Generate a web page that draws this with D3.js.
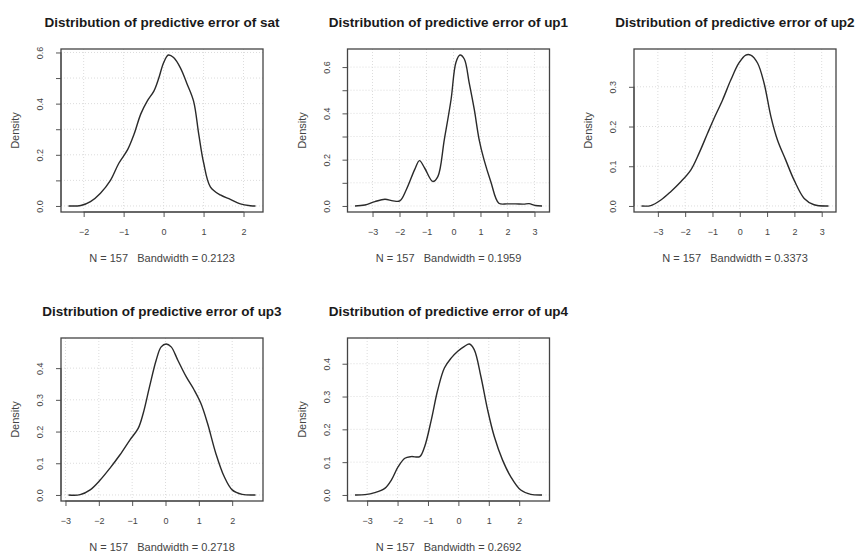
<!DOCTYPE html>
<html>
<head>
<meta charset="utf-8">
<script src="https://cdn.jsdelivr.net/npm/d3@7"></script>
<style>
  body { margin: 0; background: #fff; }
  svg text { font-family: "Liberation Sans", Arial, Helvetica, sans-serif; }
</style>
</head>
<body>
<svg id="chart" width="857" height="554"></svg>
<script>
// estimated density curves
const names = [ "sat", "up1", "up2", "up3", "up4" ];
const bandwidths = [ "0.2123", "0.1959", "0.3373", "0.2718", "0.2692" ];
const sampleSize = 157;

const satX = [ -2.38, -2.07, -1.83, -1.58, -1.33, -1.12, -0.9, -0.74, -0.57, -0.41, -0.24, -0.12, 0.0, 0.12, 0.25, 0.42, 0.58, 0.75, 0.88, 1.0, 1.17, 1.42, 1.67, 1.92, 2.17, 2.3 ];
const satY = [ 0.0, 0.002, 0.017, 0.05, 0.10, 0.167, 0.22, 0.28, 0.36, 0.41, 0.45, 0.50, 0.56, 0.59, 0.58, 0.54, 0.48, 0.41, 0.28, 0.17, 0.075, 0.043, 0.026, 0.008, 0.001, 0.0 ];

const up1X = [ -3.65, -3.28, -2.91, -2.54, -2.24, -1.99, -1.75, -1.44, -1.26, -1.07, -0.77, -0.58, -0.34, -0.09, 0.09, 0.24, 0.40, 0.58, 0.77, 0.95, 1.13, 1.38, 1.68, 1.99, 2.30, 2.6, 2.8, 3.03, 3.28 ];
const up1Y = [ 0.0, 0.004, 0.019, 0.029, 0.022, 0.022, 0.07, 0.157, 0.196, 0.164, 0.106, 0.127, 0.287, 0.46, 0.62, 0.652, 0.635, 0.533, 0.417, 0.287, 0.2, 0.106, 0.012, 0.009, 0.009, 0.008, 0.010, 0.002, 0.0 ];

const up2X = [ -3.6, -3.26, -2.89, -2.53, -2.16, -1.79, -1.49, -1.18, -0.94, -0.63, -0.33, -0.03, 0.22, 0.40, 0.65, 0.89, 1.14, 1.38, 1.68, 1.99, 2.36, 2.72, 3.25 ];
const up2Y = [ 0.0, 0.001, 0.015, 0.036, 0.061, 0.091, 0.133, 0.183, 0.221, 0.267, 0.317, 0.36, 0.38, 0.38, 0.36, 0.309, 0.225, 0.166, 0.116, 0.065, 0.019, 0.003, 0.0 ];

const up3X = [ -2.91, -2.56, -2.26, -1.96, -1.67, -1.37, -1.07, -0.82, -0.67, -0.48, -0.28, -0.13, 0.02, 0.17, 0.37, 0.62, 0.86, 1.06, 1.26, 1.51, 1.76, 2.0, 2.3, 2.7 ];
const up3Y = [ 0.0, 0.001, 0.016, 0.047, 0.084, 0.126, 0.173, 0.21, 0.257, 0.341, 0.425, 0.467, 0.476, 0.467, 0.425, 0.373, 0.331, 0.289, 0.226, 0.131, 0.058, 0.016, 0.002, 0.0 ];

const up4X = [ -3.4, -3.07, -2.75, -2.42, -2.2, -1.98, -1.76, -1.55, -1.27, -1.11, -0.89, -0.68, -0.46, -0.24, -0.02, 0.2, 0.36, 0.52, 0.74, 0.96, 1.18, 1.45, 1.72, 2.05, 2.38, 2.75 ];
const up4Y = [ 0.0, 0.001, 0.007, 0.02, 0.046, 0.086, 0.112, 0.117, 0.117, 0.147, 0.229, 0.32, 0.387, 0.417, 0.438, 0.453, 0.46, 0.443, 0.361, 0.26, 0.178, 0.107, 0.056, 0.015, 0.002, 0.0 ];

// axis ticks; an empty label means tick without text (R drops overlapping labels)
const satXTicks = [ -2, -1, 0, 1, 2 ];
const up1XTicks = [ -3, -2, -1, 0, 1, 2, 3 ];
const up2XTicks = [ -3, -2, -1, 0, 1, 2, 3 ];
const up3XTicks = [ -3, -2, -1, 0, 1, 2 ];
const up4XTicks = [ -3, -2, -1, 0, 1, 2 ];

const satYTicks = [ 0, 0.1, 0.2, 0.3, 0.4, 0.5, 0.6 ];
const satYLabels = [ "0.0", "", "0.2", "", "0.4", "", "0.6" ];
const up1YTicks = [ 0, 0.1, 0.2, 0.3, 0.4, 0.5, 0.6 ];
const up1YLabels = [ "0.0", "", "0.2", "", "0.4", "", "0.6" ];
const up2YTicks = [ 0, 0.1, 0.2, 0.3 ];
const up2YLabels = [ "0.0", "0.1", "0.2", "0.3" ];
const up3YTicks = [ 0, 0.1, 0.2, 0.3, 0.4 ];
const up3YLabels = [ "0.0", "0.1", "0.2", "0.3", "0.4" ];
const up4YTicks = [ 0, 0.1, 0.2, 0.3, 0.4 ];
const up4YLabels = [ "0.0", "0.1", "0.2", "0.3", "0.4" ];

const series = [
  { x: satX, y: satY, xt: satXTicks, yt: satYTicks, yl: satYLabels },
  { x: up1X, y: up1Y, xt: up1XTicks, yt: up1YTicks, yl: up1YLabels },
  { x: up2X, y: up2Y, xt: up2XTicks, yt: up2YTicks, yl: up2YLabels },
  { x: up3X, y: up3Y, xt: up3XTicks, yt: up3YTicks, yl: up3YLabels },
  { x: up4X, y: up4Y, xt: up4XTicks, yt: up4YTicks, yl: up4YLabels },
];

const WIDTH = 202;
const HEIGHT = 163;
const LEFTS = [ 61, 347.5, 634 ];
const TOPS = [ 49, 338 ];

const svg = d3.select( "#chart" );
svg.append( "rect" ).attr( "width", 857 ).attr( "height", 554 ).attr( "fill", "#fff" );

const drawPanel = ( i ) => {
  const s = series[i];
  const pts = s.x.map( ( v, j ) => ( { x: v, y: s.y[j] } ) );

  // R style: data range padded by 4% on each side
  const [ x0, x1 ] = d3.extent( s.x );
  const padX = ( x1 - x0 ) * 0.04;
  const yMax = d3.max( s.y );

  const xScale = d3.scaleLinear().domain( [ x0 - padX, x1 + padX ] ).range( [ 0, WIDTH ] );
  const yScale = d3.scaleLinear().domain( [ -yMax * 0.04, yMax * 1.04 ] ).range( [ HEIGHT, 0 ] );

  const g = svg.append( "g" )
    .attr( "transform", `translate(${LEFTS[i % 3]},${TOPS[Math.floor( i / 3 )]})` );

  // dotted grid
  g.append( "g" ).selectAll( "line" )
    .data( s.xt )
    .enter().append( "line" )
    .attr( "x1", d => xScale( d ) ).attr( "x2", d => xScale( d ) )
    .attr( "y1", 0 ).attr( "y2", HEIGHT )
    .attr( "stroke", "#dcdcdc" ).attr( "stroke-dasharray", "1,2" );
  g.append( "g" ).selectAll( "line" )
    .data( s.yt )
    .enter().append( "line" )
    .attr( "y1", d => yScale( d ) ).attr( "y2", d => yScale( d ) )
    .attr( "x1", 0 ).attr( "x2", WIDTH )
    .attr( "stroke", "#dcdcdc" ).attr( "stroke-dasharray", "1,2" );

  const line = d3.line()
    .x( d => xScale( d.x ) )
    .y( d => yScale( d.y ) )
    .curve( d3.curveCatmullRom.alpha( 0.5 ) );

  g.append( "path" )
    .datum( pts )
    .attr( "d", line )
    .attr( "fill", "none" )
    .attr( "stroke", "#2a2a2a" )
    .attr( "stroke-width", 1.4 );

  // axes
  const xAxis = d3.axisBottom( xScale )
    .tickValues( s.xt )
    .tickSize( 5 )
    .tickPadding( 12 )
    .tickFormat( d3.format( "d" ) );
  const gx = g.append( "g" )
    .attr( "transform", `translate(0,${HEIGHT})` )
    .call( xAxis );
  gx.select( ".domain" ).attr( "d", `M${xScale( s.xt[0] )},0H${xScale( s.xt[s.xt.length - 1] )}` );

  const yAxis = d3.axisLeft( yScale )
    .tickValues( s.yt )
    .tickSize( 5 )
    .tickFormat( ( d, j ) => s.yl[j] );
  const gy = g.append( "g" ).call( yAxis );
  gy.select( ".domain" ).attr( "d", `M0,${yScale( s.yt[0] )}V${yScale( s.yt[s.yt.length - 1] )}` );
  gy.selectAll( ".tick text" )
    .attr( "transform", "rotate(-90)" )
    .attr( "x", 0 )
    .attr( "y", -18 )
    .attr( "dy", null )
    .attr( "text-anchor", "middle" );

  [ gx, gy ].forEach( a => {
    a.selectAll( "line, path" ).attr( "stroke", "#555" );
    a.selectAll( "text" ).attr( "fill", "#444" ).style( "font-size", "9px" );
  } );

  // box
  g.append( "rect" )
    .attr( "width", WIDTH ).attr( "height", HEIGHT )
    .attr( "fill", "none" )
    .attr( "stroke", "#444" )
    .attr( "stroke-width", 1.3 );

  g.append( "text" )
    .attr( "x", WIDTH / 2 ).attr( "y", -22 )
    .attr( "text-anchor", "middle" )
    .style( "font-size", "13.5px" ).style( "font-weight", "bold" )
    .attr( "fill", "#1a1a1a" )
    .text( `Distribution of predictive error of ${names[i]}` );

  g.append( "text" )
    .attr( "x", WIDTH / 2 ).attr( "y", HEIGHT + 50 )
    .attr( "text-anchor", "middle" )
    .style( "font-size", "11px" )
    .attr( "fill", "#444" )
    .text( `N = ${sampleSize}   Bandwidth = ${bandwidths[i]}` )
    .attr( "xml:space", "preserve" )
    .style( "white-space", "pre" );

  g.append( "text" )
    .attr( "transform", `translate(-42,${HEIGHT / 2}) rotate(-90)` )
    .attr( "text-anchor", "middle" )
    .style( "font-size", "11px" )
    .attr( "fill", "#444" )
    .text( "Density" );
};

series.forEach( ( s, i ) => drawPanel( i ) );
</script>
</body>
</html>
